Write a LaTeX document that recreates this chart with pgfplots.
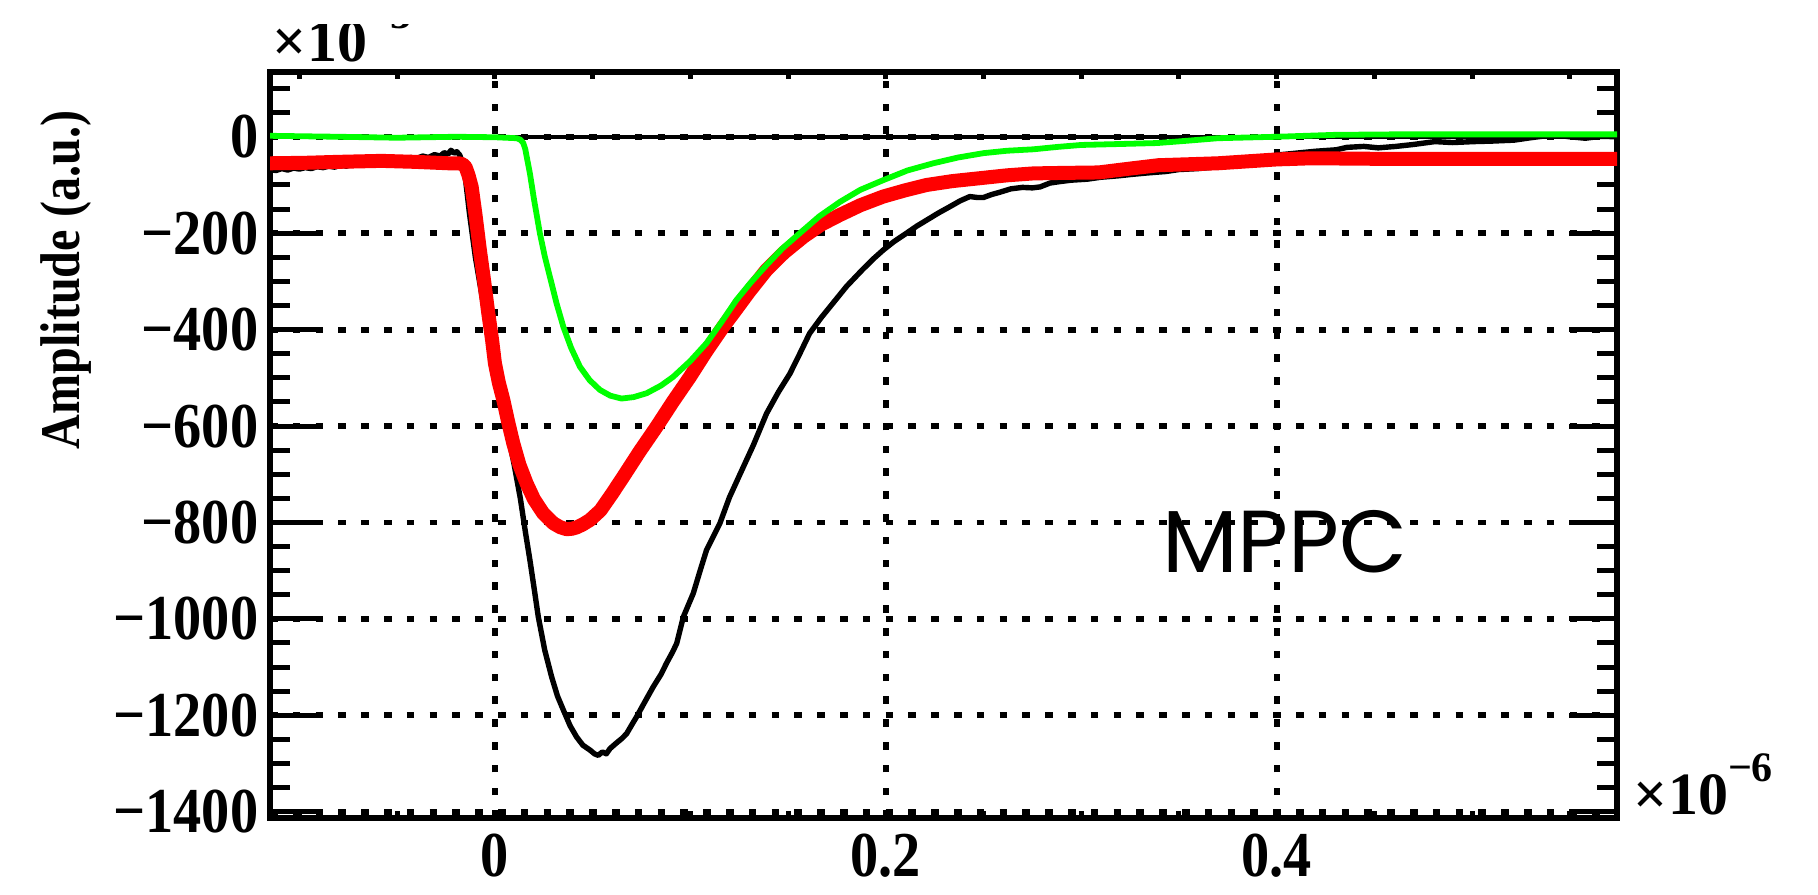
\documentclass[border=0pt]{standalone}
\usepackage{fontspec}
\setmainfont{Liberation Serif}
\newfontfamily\tickfont{Liberation Serif}[FakeStretch=0.88]
\newfontfamily\labfont{Liberation Serif}[FakeStretch=0.86]
\newfontfamily\poppins{Poppins}
\usepackage{pgfplots}
\pgfplotsset{compat=1.18}
\definecolor{rootred}{RGB}{255,0,0}
\definecolor{rootgreen}{RGB}{0,255,0}
\pgfplotstableread{
x y
-0.1151 -68
-0.1120 -70
-0.1090 -66
-0.1060 -69
-0.1030 -65
-0.1000 -67
-0.0970 -64
-0.0940 -66
-0.0910 -62
-0.0880 -64
-0.0850 -61
-0.0820 -63
-0.0790 -59
-0.0760 -61
-0.0730 -57
-0.0700 -59
-0.0670 -55
-0.0640 -57
-0.0610 -52
-0.0580 -54
-0.0550 -49
-0.0520 -51
-0.0490 -46
-0.0460 -48
-0.0430 -43
-0.0400 -45
-0.0370 -40
-0.0340 -43
-0.0310 -37
-0.0280 -40
-0.0260 -33
-0.0240 -36
-0.0225 -28
-0.0210 -34
-0.0195 -31
-0.0180 -38
-0.0165 -55
-0.0150 -90
-0.0130 -160
-0.0100 -250
-0.0060 -345
-0.0030 -415
0.0000 -490
0.0050 -585
0.0097 -677
0.0130 -750
0.0156 -820
0.0179 -878
0.0200 -935
0.0222 -996
0.0255 -1065
0.0290 -1120
0.0320 -1160
0.0350 -1189
0.0385 -1222
0.0418 -1245
0.0450 -1262
0.0486 -1272
0.0510 -1280
0.0529 -1283
0.0550 -1276
0.0570 -1280
0.0589 -1269
0.0620 -1258
0.0650 -1248
0.0674 -1238
0.0700 -1220
0.0725 -1203
0.0770 -1170
0.0810 -1141
0.0850 -1115
0.0878 -1092
0.0910 -1068
0.0930 -1051
0.0964 -996
0.1015 -947
0.1050 -900
0.1083 -857
0.1151 -802
0.1200 -748
0.1254 -700
0.1322 -640
0.1390 -574
0.1450 -530
0.1510 -491
0.1560 -450
0.1610 -408
0.1670 -375
0.1730 -345
0.1800 -310
0.1880 -276
0.1940 -252
0.1987 -235
0.2040 -218
0.2106 -200
0.2160 -185
0.2209 -173
0.2270 -158
0.2328 -145
0.2380 -133
0.2430 -124
0.2470 -126
0.2500 -126
0.2540 -120
0.2584 -115
0.2640 -108
0.2700 -105
0.2750 -106
0.2790 -104
0.2840 -96
0.2890 -93
0.2950 -90
0.3030 -88
0.3100 -84
0.3190 -81
0.3260 -78
0.3340 -75
0.3434 -72
0.3500 -68
0.3600 -66
0.3700 -62
0.3800 -55
0.3900 -46
0.4000 -38
0.4100 -34
0.4200 -30
0.4305 -27
0.4360 -22
0.4446 -20
0.4520 -23
0.4610 -20
0.4700 -16
0.4810 -10
0.4900 -12
0.5010 -10
0.5100 -9
0.5215 -7
0.5300 -2
0.5417 4
0.5500 0
0.5580 -3
0.5660 1
0.5742 0
}\blackdata
\pgfplotstableread{
x y
-0.1151 -55
-0.0970 -54
-0.0800 -52
-0.0580 -50
-0.0410 -52
-0.0237 -55
-0.0186 -55
-0.0165 -57
-0.0150 -63
-0.0135 -80
-0.0119 -104
-0.0100 -160
-0.0077 -235
-0.0055 -300
-0.0034 -366
-0.0015 -420
0.0000 -470
0.0020 -510
0.0043 -546
0.0068 -592
0.0094 -636
0.0125 -680
0.0162 -719
0.0200 -752
0.0247 -781
0.0300 -802
0.0335 -810
0.0367 -814
0.0395 -813
0.0420 -810
0.0450 -804
0.0486 -795
0.0540 -775
0.0600 -740
0.0657 -705
0.0740 -653
0.0828 -601
0.0910 -550
0.0998 -498
0.1080 -446
0.1168 -394
0.1220 -366
0.1300 -322
0.1390 -276
0.1480 -240
0.1580 -207
0.1670 -182
0.1766 -162
0.1870 -142
0.1987 -124
0.2100 -111
0.2209 -100
0.2340 -92
0.2480 -86
0.2620 -80
0.2755 -76
0.2900 -75
0.3090 -74
0.3250 -66
0.3395 -59
0.3550 -57
0.3700 -55
0.3850 -51
0.4000 -47
0.4150 -45
0.4300 -45
0.4600 -46
0.5742 -46
}\reddata
\pgfplotstableread{
x y
-0.1151 2
-0.0800 0
-0.0500 -2
-0.0200 0
0.0000 -1
0.0111 -3
0.0130 -6
0.0145 -13
0.0155 -25
0.0162 -40
0.0179 -76
0.0200 -130
0.0230 -200
0.0255 -248
0.0281 -290
0.0315 -345
0.0350 -394
0.0390 -438
0.0435 -477
0.0485 -505
0.0537 -525
0.0590 -537
0.0648 -543
0.0710 -540
0.0776 -532
0.0850 -516
0.0912 -498
0.1000 -465
0.1083 -428
0.1160 -384
0.1235 -339
0.1310 -302
0.1390 -266
0.1470 -232
0.1560 -200
0.1660 -165
0.1766 -135
0.1870 -110
0.1987 -90
0.2110 -70
0.2243 -55
0.2370 -43
0.2500 -34
0.2620 -29
0.2755 -26
0.2880 -21
0.3000 -17
0.3200 -15
0.3390 -13
0.3550 -8
0.3700 -3
0.4000 0
0.4300 4
0.4600 5
0.5742 5
}\greendata
\begin{document}
\begin{tikzpicture}
\path[use as bounding box] (0pt,0pt) rectangle (454.5pt,223.75pt);
\begin{axis}[
  at={(67.5pt,19.25pt)}, anchor=south west,
  scale only axis, width=336.75pt, height=186.5pt,
  xmin=-0.1151, xmax=0.5742, ymin=-1413, ymax=134.4,
  axis line style={line width=1.5pt},
  tick align=inside,
  xtick={0,0.2,0.4}, xticklabels={0,0.2,0.4},
  xtick style={draw=none},
  ytick={-1400,-1200,-1000,-800,-600,-400,-200,0},
  yticklabels={−1400,−1200,−1000,−800,−600,−400,−200,0},
  minor ytick={-1350,-1300,-1250,-1150,-1100,-1050,-950,-900,-850,-750,-700,-650,-550,-500,-450,-350,-300,-250,-150,-100,-50,50,100},
  ytick style={line width=1.25pt, black},
  major tick length=12pt, minor tick length=5pt,
  xmajorgrids, ymajorgrids,
  major grid style={black, line width=1.45pt, dash pattern=on 1.9pt off 3.8pt},
  tick label style={font=\tickfont\bfseries\fontsize{16}{16}\selectfont, inner sep=0pt},
  yticklabel style={anchor=east, xshift=-2.75pt},
  xticklabel style={anchor=north, yshift=-3.75pt},
  ylabel={Amplitude (a.u.)},
  ylabel style={at={(axis description cs:-0.1514,0.949)}, anchor=east, inner sep=0pt, font=\labfont\bfseries\fontsize{14}{14}\selectfont},
]
\addplot[black, line width=1pt] coordinates {(-0.1151,0) (0.5742,0)};
\addplot[black, line width=1.35pt, line join=round] table[x=x,y=y] {\blackdata};
\addplot[rootred, line width=3.5pt, line join=round] table[x=x,y=y] {\reddata};
\addplot[rootgreen, line width=1.45pt, line join=round] table[x=x,y=y] {\greendata};
\node[font=\poppins\fontsize{22}{22}\selectfont, inner sep=0pt] at (axis cs:0.4043,-840.7) {MPPC};
\end{axis}
\begin{axis}[
  at={(67.5pt,19.25pt)}, anchor=south west,
  scale only axis, width=336.75pt, height=186.5pt,
  xmin=-0.1151, xmax=0.5742, ymin=-1413, ymax=134.4,
  axis line style={draw=none},
  tick align=inside,
  xtick={-0.1,-0.05,0,0.05,0.1,0.15,0.2,0.25,0.3,0.35,0.4,0.45,0.5,0.55},
  xticklabels={}, ytick=\empty,
  major tick length=1.75pt,
  xtick style={line width=1.25pt, black},
]
\end{axis}
\begin{scope}
\clip (0pt,0pt) rectangle (454.5pt,217.5pt);
\node[anchor=base west, inner sep=0pt, font=\bfseries\fontsize{15}{15}\selectfont] at (68pt,208.25pt) {×10\raisebox{8.25pt}{\fontsize{10.5}{10.5}\selectfont −3}};
\end{scope}
\node[anchor=base west, inner sep=0pt, font=\bfseries\fontsize{15}{15}\selectfont] at (408.25pt,20pt) {×10\raisebox{8.25pt}{\fontsize{10.5}{10.5}\selectfont −6}};
\end{tikzpicture}
\end{document}
